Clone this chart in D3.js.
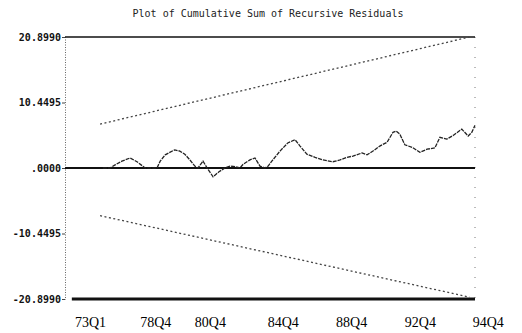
<!DOCTYPE html>
<html>
<head>
<meta charset="utf-8">
<script src="https://cdn.jsdelivr.net/npm/d3@7"></script>
<style>
  body { margin: 0; background: #fff; }
  svg { display: block; }
  .title { font-family: 'DejaVu Sans Mono', monospace; font-size: 10px; fill: #222; }
  .y-axis text { font-family: 'DejaVu Sans Mono', monospace; font-size: 10px; font-weight: bold; fill: #111; }
  .x-axis text { font-family: 'Liberation Serif', serif; font-size: 14px; fill: #000; }
</style>
</head>
<body>
<div id="chart"></div>
<script>
// observation index (quarters) and cumulative sum of recursive residuals
const obs = [8.3, 9.9, 11, 12.5, 14.3, 15.8, 17.6, 19.1, 20.2, 20.9, 22, 23, 24.1, 25.2, 26.3, 27.4,
  28.5, 29.2, 30.3, 31.2, 32.5, 33.8, 35.1, 36.2, 37.5, 38.4, 39.1, 40.6, 41.7, 42.8, 43.9, 44.6,
  45.4, 47.2, 48.9, 50.5, 51.6, 53.1, 54.9, 56.6, 58.8, 60.4, 61.9, 63.2, 65.2, 66.3, 67.6, 69.1,
  70.7, 72, 72.7, 73.5, 74.6, 76.2, 77.9, 79.5, 81.2, 82.3, 83.8, 85.2, 87.1, 88.5, 89.3, 90];
const cusum = [0, 0, 0.5, 1.1, 1.6, 1.0, 0, 0, 0, 1.1, 2.1, 2.5, 2.9, 2.7, 2.2, 1.3,
  0.3, 0, 1.1, 0, -1.4, -0.6, 0, 0.3, 0.2, 0, 0.6, 1.3, 1.6, 0.3, 0, 0.3,
  1.1, 2.7, 4.0, 4.5, 3.5, 2.2, 1.7, 1.3, 1.0, 1.3, 1.7, 1.9, 2.4, 2.1, 2.7, 3.5,
  4.1, 5.7, 5.9, 5.4, 3.7, 3.3, 2.5, 3.0, 3.2, 4.9, 4.6, 5.2, 6.2, 5.1, 5.7, 6.8];

// 5% significance bounds: start and end points
const boundObs = [7.7, 88.8];
const upperBound = [7.0, 20.899];
const lowerBound = [-7.6, -20.6];

const yTicks = [20.899, 10.4495, 0, -10.4495, -20.899];
const yTickLabels = ['20.8990', '10.4495', '.0000', '-10.4495', '-20.8990'];
const xTickObs = [5.5, 19.8, 31.8, 47.8, 62.8, 77.9, 92.8];
const xTickLabels = ['73Q1', '78Q4', '80Q4', '84Q4', '88Q4', '92Q4', '94Q4'];

const width = 522, height = 333;
const margin = { top: 37, right: 47, bottom: 34, left: 65 };

const svg = d3.select('#chart').append('svg')
  .attr('width', width)
  .attr('height', height);

const x = d3.scaleLinear().domain([0, 90]).range([margin.left, width - margin.right]);
const y = d3.scaleLinear().domain([-20.899, 20.899]).range([height - margin.bottom, margin.top]);

svg.append('text')
  .attr('class', 'title')
  .attr('x', 268)
  .attr('y', 17)
  .attr('text-anchor', 'middle')
  .text('Plot of Cumulative Sum of Recursive Residuals');

// left axis (dotted)
const yAxis = svg.append('g')
  .attr('class', 'y-axis')
  .attr('transform', `translate(${margin.left},0)`)
  .call(d3.axisLeft(y).tickValues(yTicks).tickFormat((d, i) => yTickLabels[i]).tickSize(3).tickPadding(1));
yAxis.select('.domain')
  .attr('stroke', '#666')
  .attr('stroke-dasharray', '1,1.5');
yAxis.selectAll('.tick line').attr('stroke', '#444');

// right edge (sparse dots)
svg.append('line')
  .attr('x1', x(90)).attr('x2', x(90))
  .attr('y1', y(20.899)).attr('y2', y(-20.899))
  .attr('stroke', '#777')
  .attr('stroke-dasharray', '1,9');

// top frame, zero line and bottom line
svg.append('line')
  .attr('x1', x(0)).attr('x2', x(90))
  .attr('y1', y(20.899)).attr('y2', y(20.899))
  .attr('stroke', '#111').attr('stroke-width', 1.6);
svg.append('line')
  .attr('x1', x(0)).attr('x2', x(90))
  .attr('y1', y(0)).attr('y2', y(0))
  .attr('stroke', '#111').attr('stroke-width', 1.8);
svg.append('line')
  .attr('x1', x(1.5)).attr('x2', x(90))
  .attr('y1', y(-20.899)).attr('y2', y(-20.899))
  .attr('stroke', '#111').attr('stroke-width', 3);

// x labels
const xAxis = svg.append('g')
  .attr('class', 'x-axis')
  .attr('transform', `translate(0,${height - 24})`)
  .call(d3.axisBottom(x).tickValues(xTickObs).tickFormat((d, i) => xTickLabels[i]).tickSize(0).tickPadding(8));
xAxis.select('.domain').remove();

// bounds
const bound = d3.line().x(d => x(d[0])).y(d => y(d[1]));
[upperBound, lowerBound].forEach(b => {
  svg.append('path')
    .datum(boundObs.map((t, i) => [t, b[i]]))
    .attr('d', bound)
    .attr('fill', 'none')
    .attr('stroke', '#444')
    .attr('stroke-width', 1.3)
    .attr('stroke-dasharray', '2,2.5');
});

// cusum line
svg.append('path')
  .datum(obs.map((t, i) => [t, cusum[i]]))
  .attr('d', d3.line().x(d => x(d[0])).y(d => y(d[1])))
  .attr('fill', 'none')
  .attr('stroke', '#222')
  .attr('stroke-width', 1.3)
  .attr('stroke-dasharray', '4,1');
</script>
</body>
</html>
